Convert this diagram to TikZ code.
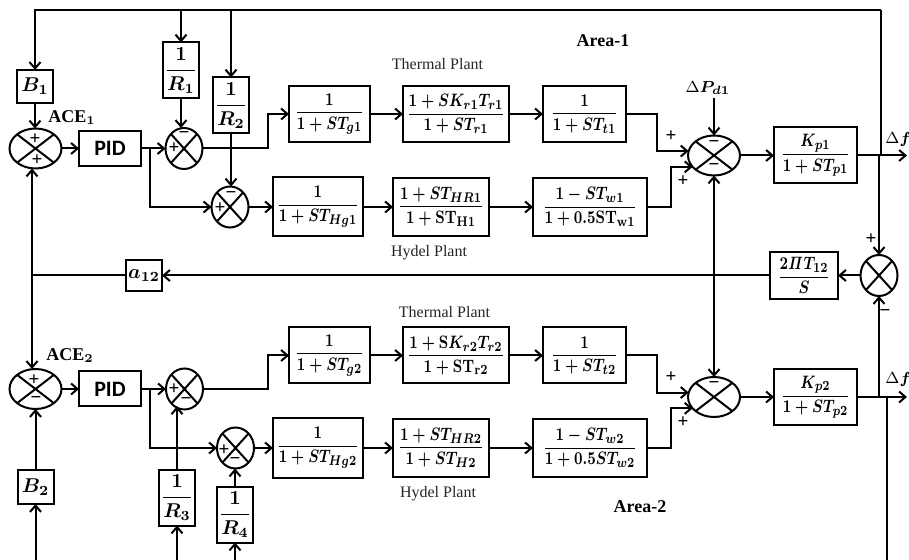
\documentclass[tikz,border=0pt]{standalone}
\usepackage{amsmath,amssymb,graphicx}
\usepackage[no-math]{fontspec}
\setmainfont{Liberation Serif}
\newfontfamily\pidfont{Carlito}
\usetikzlibrary{arrows.meta,positioning,shapes.geometric}
\newcommand{\blk}[2]{\scalebox{.8}[1]{$\dfrac{#1}{#2}$}}
\newcommand{\gfr}[2]{$\dfrac{#1}{#2}$}
\begin{document}
\begin{tikzpicture}[
      x=0.5pt,y=-0.5pt,
      box/.style={draw=black,line width=1pt,inner sep=0pt,outer sep=0pt,minimum height=28pt,align=center,font=\fontsize{9.5}{11}\selectfont\boldmath,fill=white},
      gain/.style={box,minimum width=18pt,font=\fontsize{10}{12}\selectfont\boldmath},
      pidbox/.style={box,minimum width=31pt,minimum height=17.5pt,font=\pidfont\fontsize{11}{13}\selectfont\bfseries},
      wire/.style={line width=1pt,black},
      arr/.style={wire,-{Straight Barb[length=3.2pt,width=5.5pt]}},
      both/.style={wire,{Straight Barb[length=3.2pt,width=5.5pt]}-{Straight Barb[length=3.2pt,width=5.5pt]}},
      sumbig/.style={draw=black,line width=1pt,ellipse,inner sep=0pt,outer sep=0pt,minimum width=26pt,minimum height=20pt,
        path picture={\draw[wire] (path picture bounding box.north west) -- (path picture bounding box.south east)
          (path picture bounding box.south west) -- (path picture bounding box.north east);}},
      sumsmall/.style={sumbig,minimum width=18.5pt,minimum height=20.5pt},
      sgn/.style={inner sep=0pt,font=\fontsize{9.5}{10}\selectfont\bfseries},
      plant/.style={inner sep=0pt,font=\fontsize{8}{10}\selectfont,text=black!85},
      lab/.style={inner sep=0pt,font=\fontsize{9}{11}\selectfont\bfseries\boldmath},
      dlab/.style={inner sep=0pt,font=\fontsize{8.5}{10}\selectfont\boldmath}
    ]
    \useasboundingbox (0,0) rectangle (909,560);
    % area 1
    \node[sumbig] (ace1) at (35.5,148.5) {};
    \node[pidbox] (pid1) at (110,148.5) {PID};
    \node[gain,minimum height=16.5pt] (b1) at (35,86.5) {$B_1$};
    \node[gain] (r1) at (181,70.5) {\gfr{1}{R_1}};
    \node[gain] (r2) at (231,105.5) {\gfr{1}{R_2}};
    \node[sumsmall] (sr1) at (184,148.5) {};
    \node[sumsmall] (sr2) at (230,207) {};
    \node[box,minimum width=40.5pt] (g1) at (329.5,114) {\blk{1}{1+ST_{g1}}};
    \node[box,right=16.5pt of g1,minimum width=53pt] (tr1) {\blk{1+SK_{r1}T_{r1}}{1+ST_{r1}}};
    \node[box,right=17pt of tr1,minimum width=41.5pt] (t1) {\blk{1}{1+ST_{t1}}};
    \node[box,minimum width=45pt,minimum height=29.5pt] (hg1) at (318,207) {\blk{1}{1+ST_{Hg1}}};
    \node[box,right=15pt of hg1,minimum width=48pt,minimum height=29pt] (hr1) {\blk{1+ST_{HR1}}{1+\mathbf{ST_{H1}}}};
    \node[box,right=22pt of hr1,minimum width=57pt,minimum height=29pt] (w1) {\blk{1-ST_{w1}}{1+0.5\mathbf{ST_{w1}}}};
    \node[sumbig] (s1) at (714,155.5) {};
    \node[box,minimum width=41.5pt] (kp1) at (815.5,155.5) {\blk{K_{p1}}{1+ST_{p1}}};
    \node[sumsmall] (sf) at (879,275.5) {};
    \node[box,minimum width=34pt,minimum height=23.5pt] (tie) at (804,275.5) {\blk{2\mathit{\Pi}T_{12}}{S}};
    \node[gain,minimum height=15.5pt] (a12) at (144,275.5) {$a_{12}$};
    % area 2
    \node[sumbig] (ace2) at (35.5,389) {};
    \node[pidbox] (pid2) at (110,389) {PID};
    \node[gain,minimum height=17pt] (b2) at (35.5,487) {$B_2$};
    \node[gain] (r3) at (177,497.5) {\gfr{1}{R_3}};
    \node[gain] (r4) at (235,514.5) {\gfr{1}{R_4}};
    \node[sumsmall] (sr3) at (184.5,389) {};
    \node[sumsmall] (sr4) at (235.5,448) {};
    \node[box,minimum width=40.5pt] (g2) at (329.5,355.5) {\blk{1}{1+ST_{g2}}};
    \node[box,right=16.5pt of g2,minimum width=53pt] (tr2) {\blk{1+\mathbf{S}K_{r2}T_{r2}}{1+\mathbf{ST_{r2}}}};
    \node[box,right=17pt of tr2,minimum width=41.5pt] (t2) {\blk{1}{1+ST_{t2}}};
    \node[box,minimum width=45pt,minimum height=29.5pt] (hg2) at (318,448) {\blk{1}{1+ST_{Hg2}}};
    \node[box,right=15pt of hg2,minimum width=48pt,minimum height=29pt] (hr2) {\blk{1+ST_{HR2}}{1+ST_{H2}}};
    \node[box,right=22pt of hr2,minimum width=57pt,minimum height=29pt] (w2) {\blk{1-ST_{w2}}{1+0.5ST_{w2}}};
    \node[sumbig] (s2) at (714,397) {};
    \node[box,minimum width=41.5pt] (kp2) at (815.5,397) {\blk{K_{p2}}{1+ST_{p2}}};
    % texts
    \node[plant] (th1) at (437.5,64) {Thermal Plant};
    \node[plant] (hy1) at (429,253) {Hydel Plant};
    \node[plant] (th2) at (444.5,312) {Thermal Plant};
    \node[plant] (hy2) at (438,494) {Hydel Plant};
    \node[lab] (ar1) at (603,41) {Area-1};
    \node[lab] (ar2) at (640,507) {Area-2};
    \node[lab] (ac1) at (72,118) {ACE$_{\mathbf 1}$};
    \node[lab] (ac2) at (70,356) {ACE$_{\mathbf 2}$};
    \node[dlab] (dp) at (708,88) {{\unboldmath$\Delta$}$P_{d1}$};
    \node[dlab,anchor=west] (df1) at (885,140) {{\unboldmath$\Delta$}$f$};
    \node[dlab,anchor=west] (df2) at (885,380) {{\unboldmath$\Delta$}$f$};
    % signs
    \foreach \px/\py/\sg in {35/139/+,37/160/+,184/135/−,174/148/+,231/195/−,220/208/+,714/144/−,714/167/−,671/136/+,683/181/+,871/239/+,885/313/−,34/380/+,36/400/−,174/389/+,186/401/−,224/450/+,235/461/−,714/385/−,671/377/+,683/422/+}
      \node[sgn] (sg-\px-\py) at (\px,\py) {\sg};
    % free ends
    \coordinate (top) at (881,10);
    \coordinate (lft) at (32,275.5);
    \coordinate (out1) at (907,155.5);
    \coordinate (out2) at (907,397);
    \coordinate (pd) at (714,98);
    \coordinate (bb2) at (35.5,560);
    \coordinate (br3) at (177,560);
    \coordinate (br4) at (235,560);
    \coordinate (brt) at (887,560);
    % feedback from the top line
    \draw[wire] (top |- kp1) -- (top);
    \draw[arr] (top) -| (b1.north);
    \draw[arr] (r1.north |- top) -- (r1.north);
    \draw[arr] (r2.north |- top) -- (r2.north);
    \draw[arr] (b1) -- (b1 |- ace1.north);
    \draw[arr] (r1.south) -- (r1.south |- sr1.north);
    \draw[arr] (r2.south) -- (r2.south |- sr2.north);
    % forward paths area 1
    \draw[arr] (ace1) -- (pid1);
    \draw[arr] (pid1) -- (sr1);
    \draw[arr] (pid1.east -| 150,0) |- (sr2.west);
    \draw[arr] (sr1.east) -- (268,148.5) |- (g1.west);
    \draw[arr] (sr2) -- (hg1);
    \draw[arr] (g1) -- (tr1);
    \draw[arr] (tr1) -- (t1);
    \draw[arr] (hg1) -- (hr1);
    \draw[arr] (hr1) -- (w1);
    \draw[arr] (t1.east) -- (657,114) |- (s1.170);
    \draw[arr] (w1.east) -- (671,207) |- (s1.208);
    \draw[arr] (pd) -- (s1.north);
    \draw[arr] (s1) -- (kp1);
    \draw[arr] (kp1) -- (out1);
    % tie line
    \draw[arr] (kp1 -| sf) -- (sf.north);
    \draw[arr] (sf) -- (tie);
    \draw[arr] (tie) -- (a12);
    \draw[wire] (a12) -- (lft);
    \draw[arr] (lft) -- (lft |- ace1.south);
    \draw[arr] (lft) -- (lft |- ace2.north);
    \draw[both] (s1.south) -- (s2.north);
    \draw[arr] (kp2 -| sf) -- (sf.south);
    % forward paths area 2
    \draw[arr] (ace2) -- (pid2);
    \draw[arr] (pid2) -- (sr3);
    \draw[arr] (pid2.east -| 150,0) |- (sr4.west);
    \draw[arr] (sr3.east) -- (268,389) |- (g2.west);
    \draw[arr] (sr4) -- (hg2);
    \draw[arr] (g2) -- (tr2);
    \draw[arr] (tr2) -- (t2);
    \draw[arr] (hg2) -- (hr2);
    \draw[arr] (hr2) -- (w2);
    \draw[arr] (t2.east) -- (657,355.5) |- (s2.170);
    \draw[arr] (w2.east) -- (671,448) |- (s2.208);
    \draw[arr] (s2) -- (kp2);
    \draw[arr] (kp2) -- (out2);
    \draw[wire] (kp2 -| brt) -- (brt);
    % bottom inputs
    \draw[arr] (b2) -- (b2 |- ace2.south);
    \draw[arr] (r3.north) -- (r3.north |- sr3.240);
    \draw[arr] (r4.north) -- (r4.north |- sr4.south);
    \draw[arr] (bb2) -- (b2.south);
    \draw[arr] (br3) -- (r3.south);
    \draw[arr] (br4) -- (r4.south);
  \end{tikzpicture}
\end{document}
